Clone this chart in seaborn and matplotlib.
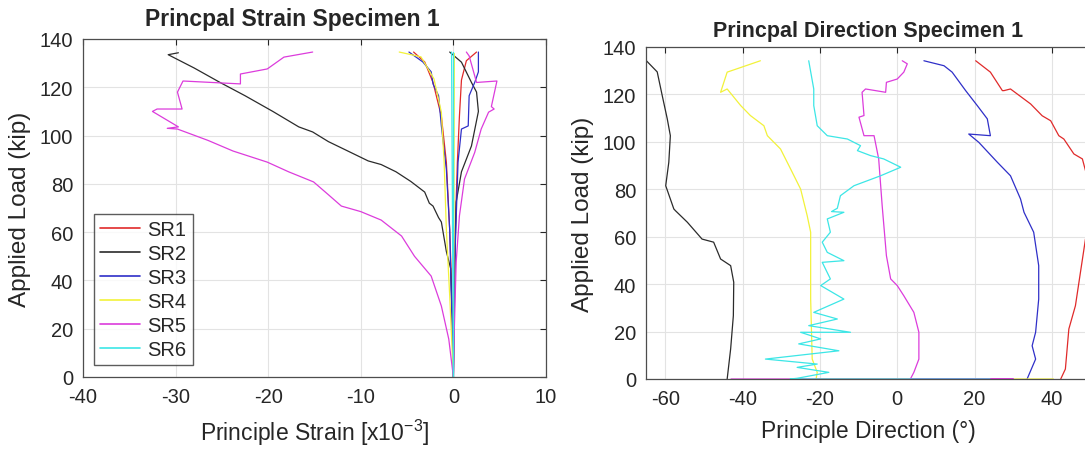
import numpy as np
import pandas as pd
import seaborn as sns
import matplotlib.pyplot as plt

# %% datos (strain en x10^-3, carga en kip)
sensores = ["SR1", "SR2", "SR3", "SR4", "SR5", "SR6"]
colores = ["#e02a2a", "#2b2b2b", "#2f2fc8", "#f2f23a", "#dc3cdc", "#3ce6e6"]

# deformaciones principales (rama max y rama min de cada roseta)
sr1_eps1 = [(0, 0), (0.2, 61), (0.43, 89), (0.65, 108), (0.87, 123), (1.4, 131), (2.5, 134.6)]
sr1_eps2 = [(0, 0), (-0.1, 27), (-0.4, 61), (-0.76, 89), (-1.3, 108), (-2.2, 122), (-3.1, 130.5), (-4.3, 134.6)]
sr2_eps1 = [(0, 0), (0.1, 40), (0.3, 72.5), (0.87, 85), (1.95, 95.7), (2.7, 110), (2.5, 118), (1.95, 122),
            (0.87, 130.4), (-0.4, 134.6)]
sr2_eps2 = [(0, 0), (-0.1, 20), (-0.3, 45), (-0.76, 52), (-1.3, 64.2), (-1.6, 66), (-2.2, 70.8), (-2.6, 72),
            (-3.1, 76.6), (-4.6, 81), (-6.2, 85), (-7.8, 88), (-9.2, 89.5), (-11.4, 93.6), (-13.5, 97.5),
            (-15.2, 101.5), (-16.7, 103.6), (-19.5, 110), (-22.5, 116.5), (-25.2, 122), (-28, 128),
            (-30.8, 133.5), (-29.7, 134.3)]
sr3_eps1 = [(0, 0), (0.2, 54), (0.5, 89), (0.87, 102.7), (1.6, 104), (1.7, 116.5), (2.3, 122), (2.7, 126.4),
            (2.7, 134.6)]
sr3_eps2 = [(0, 0), (-0.4, 61), (-0.76, 86), (-1.3, 104), (-1.6, 116.5), (-2.2, 121.4), (-2.4, 126.4),
            (-3.3, 130.5), (-4.8, 134.6)]
sr4_eps1 = [(0, 0), (0.05, 60), (0.1, 134)]
sr4_eps2 = [(0, 0), (-0.4, 33.6), (-0.76, 61), (-1.0, 89), (-1.3, 109.7), (-2.1, 123.5), (-3.5, 132.6),
            (-5.85, 134.6)]
sr5_eps1 = [(0, 0), (0.1, 20), (0.3, 47.6), (0.65, 66.7), (1.2, 82), (2.3, 93), (3.0, 102.7), (3.8, 109.7),
            (4.4, 111), (4.1, 112), (4.7, 122.6), (2.5, 122), (1.7, 133), (1.4, 134.6)]
sr5_eps2 = [(0, 0), (-0.5, 15.7), (-1.3, 29.4), (-2.4, 41.8), (-4.2, 50), (-5.6, 58.4), (-7.8, 65),
            (-10, 68.5), (-12.1, 70.8), (-13.5, 75.5), (-15.1, 80.8), (-17.8, 85), (-20.1, 89), (-23.8, 93.6),
            (-26.5, 98), (-29.8, 102.7), (-30.9, 103), (-29.7, 103.6), (-32.5, 110), (-32, 111), (-29.3, 111),
            (-29.8, 118), (-29.2, 122.6), (-23, 121.4), (-23, 125.5), (-20.1, 127.6), (-18.3, 132.5),
            (-15.2, 134.6)]
sr6_eps1 = [(0, 0), (0, 134.6)]
sr6_eps2 = [(0, 0), (-0.2, 134.6)]

# direcciones principales (grados)
sr1_dir = [(42.3, 0), (43.5, 4.2), (43.8, 9.8), (44.4, 21.1), (46.1, 30.9), (47.4, 45), (48.7, 59), (51, 70),
           (51, 80), (48.7, 87.9), (47.9, 92.8), (45.7, 94.9), (43.1, 101.2), (41.8, 102.6), (39.7, 108.9),
           (37.5, 111), (34.5, 116), (29.3, 122.3), (27.6, 121.6), (27.2, 121.6), (24.1, 129.4), (20.3, 134.2)]
sr2_dir = [(-44, 0), (-43.1, 12.7), (-42.4, 26.7), (-42.3, 40.8), (-43.1, 47.8), (-45.7, 50.6), (-47.5, 57.7),
           (-50.5, 59), (-54.3, 66.1), (-57.4, 71), (-57.8, 71.7), (-59.9, 81.5), (-59.1, 91.4), (-58.7, 102.6),
           (-59.5, 109.7), (-60.8, 119.5), (-62.1, 129.5), (-64.9, 134.2)]
sr3_dir = [(33.6, 0), (35.8, 8.4), (34.9, 14), (35.8, 19.7), (36.6, 33.7), (36.6, 47.8), (35.3, 61.9),
           (32.8, 70.3), (31.9, 75.9), (29.3, 85.7), (25.9, 91.4), (21.1, 99.8), (18.5, 103.3), (24.1, 102.6),
           (23.3, 109.7), (20.7, 115.3), (17.7, 121.6), (14.2, 129.4), (12.1, 132.1), (6.9, 134.2)]
sr4_dir = [(40.4, 0), (-21, 0), (-20.7, 2.8), (-22, 8.4), (-22.4, 33.7), (-22.4, 61.9), (-23.3, 68.9),
           (-25, 80.1), (-27.6, 88.6), (-30.2, 97), (-33.6, 102.6), (-34.5, 106.8), (-38, 111.1),
           (-40.5, 115.3), (-44, 122.3), (-45.7, 120.9), (-44, 129.4), (-35.4, 134.2)]
sr5_dir = [(-43, 0), (30, 0), (3.4, 0), (4.3, 2.8), (5.6, 8.4), (5.6, 19.7), (4.3, 28.1), (1.7, 35.1),
           (0, 39.4), (-1.7, 42.2), (-2.8, 52), (-3.9, 73.1), (-4.8, 92.8), (-6.0, 102.6), (-8.6, 102.6),
           (-9.9, 110.4), (-8.6, 111.1), (-9.1, 120.9), (-8.2, 122.3), (-3, 120.9), (-2.8, 125.1), (0, 126.5),
           (1.7, 129.4), (2.6, 132.9), (1.3, 134.2)]
sr6_dir = [(24, 0), (-27.7, 0), (-25.9, 0.3), (-17.7, 2.8), (-25.9, 4.9), (-20.7, 6.3), (-34.1, 8.4),
           (-15.1, 11.9), (-25.5, 14.8), (-19.8, 16.9), (-25, 19.7), (-12.1, 19.7), (-22.9, 22.5),
           (-15.5, 25.3), (-21.6, 28.1), (-13.8, 33.7), (-19.8, 39.4), (-17.3, 42.2), (-19.4, 49.2),
           (-13.8, 49.9), (-18.1, 53.4), (-19.4, 57.7), (-17.3, 61.9), (-18.1, 67.5), (-13.8, 70.3),
           (-17, 70.6), (-15.5, 72), (-14.7, 77.3), (-11.2, 81.5), (-4.3, 85.7), (0.9, 89.3), (-3.5, 92.8),
           (-6.9, 94.2), (-10.3, 96.3), (-9.5, 98.4), (-12.9, 101.2), (-18.1, 102.6), (-20.7, 106.8),
           (-21.6, 115.3), (-21.6, 122.3), (-22.9, 134.2)]

ramas_strain = {"SR1": [sr1_eps1, sr1_eps2], "SR2": [sr2_eps1, sr2_eps2], "SR3": [sr3_eps1, sr3_eps2],
                "SR4": [sr4_eps1, sr4_eps2], "SR5": [sr5_eps1, sr5_eps2], "SR6": [sr6_eps1, sr6_eps2]}
ramas_dir = {"SR1": [sr1_dir], "SR2": [sr2_dir], "SR3": [sr3_dir],
             "SR4": [sr4_dir], "SR5": [sr5_dir], "SR6": [sr6_dir]}


def armar_df(ramas, col):
    filas = []
    for s in sensores:
        for k, pts in enumerate(ramas[s]):
            for x, y in pts:
                filas.append({"sensor": s, "rama": f"{s}_{k}", col: x, "carga": y})
    return pd.DataFrame(filas)


df_strain = armar_df(ramas_strain, "strain")
df_dir = armar_df(ramas_dir, "direccion")

# %% Graficos
sns.set_theme(style="white")
plt.rcParams["font.family"] = ["Liberation Sans", "DejaVu Sans"]
plt.rcParams["mathtext.default"] = "regular"
plt.rcParams["axes.unicode_minus"] = False
paleta = dict(zip(sensores, colores))

fig = plt.figure(figsize=(10.85, 4.52), dpi=100)
ax0 = fig.add_axes([83 / 1085, 74 / 452, 463 / 1085, 338 / 452])
ax1 = fig.add_axes([646 / 1085, 72 / 452, 444.5 / 1085, 332 / 452])

sns.lineplot(data=df_strain, x="strain", y="carga", hue="sensor", units="rama", estimator=None,
             sort=False, palette=paleta, linewidth=0.9, ax=ax0)
sns.lineplot(data=df_dir, x="direccion", y="carga", hue="sensor", units="rama", estimator=None,
             sort=False, palette=paleta, linewidth=0.9, legend=False, ax=ax1)

ax0.set(xlim=(-40, 10), ylim=(0, 140), xticks=np.arange(-40, 11, 10))
ax1.set(xlim=(-65, 50), ylim=(0, 140), xticks=np.arange(-60, 41, 20))
for ax in [ax0, ax1]:
    ax.set_yticks(np.arange(0, 141, 20))
    ax.grid(True, color="#e3e3e3", linewidth=0.8)
    ax.set_axisbelow(True)
    ax.tick_params(direction="in", length=4, width=0.8, top=True, right=True, labelsize=14.5,
                   colors="#262626", pad=7)
    for sp in ax.spines.values():
        sp.set_color("#4d4d4d")
        sp.set_linewidth(0.9)
    ax.set_ylabel("Applied Load (kip)", fontsize=17.5, color="#262626", labelpad=6)

ax0.set_xlabel(r"Principle Strain [x10$^{-3}$]", fontsize=16.5, color="#262626", labelpad=8)
ax1.set_xlabel("Principle Direction (°)", fontsize=16.5, color="#262626", labelpad=8)
ax0.set_title("Princpal Strain Specimen 1", fontsize=16.5, fontweight="bold", x=0.451, pad=10)
ax1.set_title("Princpal Direction Specimen 1", fontsize=15.5, fontweight="bold", pad=8)

sns.move_legend(ax0, "lower left", bbox_to_anchor=(0.024, 0.036), title=None, frameon=True,
                fontsize=14.5, handlelength=2.0, labelspacing=0.25, borderpad=0.3, handletextpad=0.35,
                borderaxespad=0, fancybox=False, edgecolor="#333333")
for ln in ax0.get_legend().get_lines():
    ln.set_linewidth(1.2)

plt.savefig("out.png", dpi=100)
